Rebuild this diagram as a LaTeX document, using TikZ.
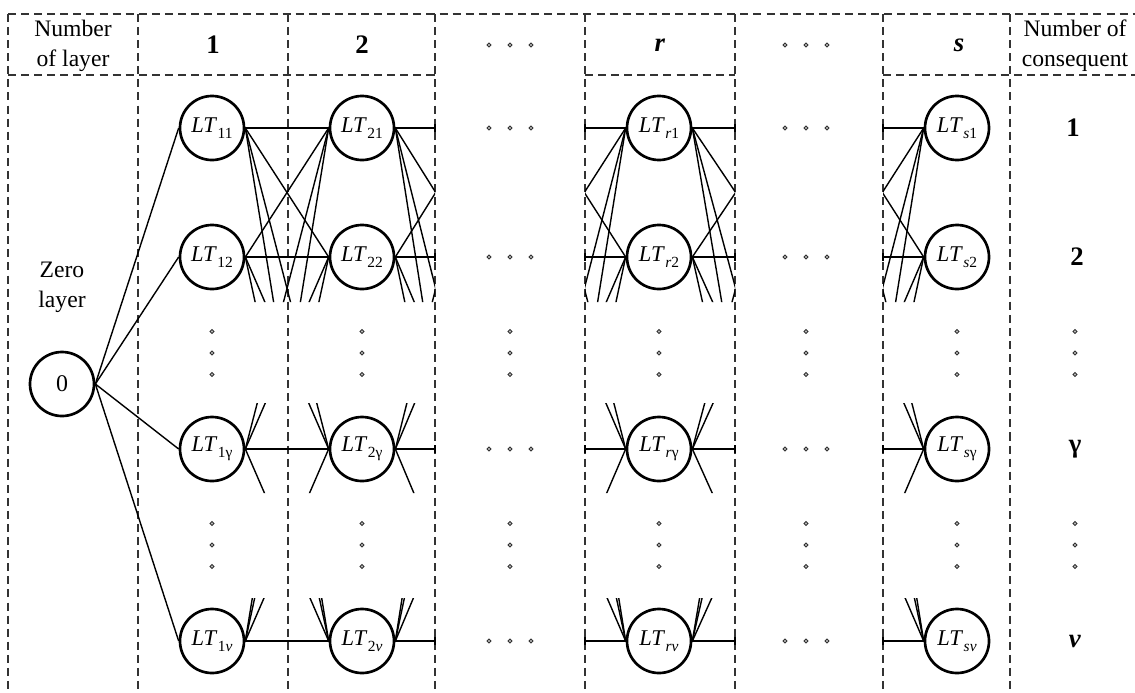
\documentclass[tikz,border=0pt]{standalone}
\usepackage{fontspec}
\setmainfont{Liberation Serif}
\newcommand{\ltlab}[1]{\textit{LT}\kern0.3pt\raisebox{-0.28em}{\fontsize{11}{12}\selectfont #1}}
\begin{document}
\begin{tikzpicture}[x=0.025cm,y=-0.025cm,
  lt/.style={circle,draw,line width=1.9pt,minimum size=1.6cm,inner sep=0pt,font=\fontsize{16}{18}\selectfont},
  dl/.style={dash pattern=on 5.7pt off 3.6pt,line width=0.9pt,black!80},
  ed/.style={line width=1pt},
  hd/.style={font=\fontsize{16.8}{21.3}\selectfont,align=center,inner sep=0pt},
  bn/.style={font=\fontsize{19}{21}\selectfont\bfseries,inner sep=0pt},
  dotst/.style={draw=black!80,fill=gray!50,line width=0.6pt}
]
\useasboundingbox (0,0) rectangle (1135,692);

% dashed frame
\draw[dl] (8,14) -- (1135,14);
\draw[dl] (8,75) -- (435,75) (585,75) -- (735,75) (883,75) -- (1135,75);
\foreach \x in {8,138,288,435,585,735,883,1010} \draw[dl] (\x,14) -- (\x,700);

% header
\node[hd] (hlayer) at (73,46) {Number\\of layer};
\node[hd] (hcons) at (1075,46) {Number of\\consequent};
\node[bn] (h1) at (213,45) {1};
\node[bn] (h2) at (362,45) {2};
\node[bn] (hr) at (660,45) {\textit{r}};
\node[bn] (hs) at (959,45) {\textit{s}};

% zero layer
\node[hd] (zlab) at (62,287) {Zero\\layer};
\node[lt,font=\fontsize{17}{19}\selectfont] (z) at (62,384) {0};

% layer nodes
\node[lt] (a1) at (212,128) {\ltlab{11}};
\node[lt] (a2) at (212,257) {\ltlab{12}};
\node[lt] (a3) at (212,449) {\ltlab{1γ}};
\node[lt] (a4) at (212,641) {\ltlab{1\textit{v}}};
\node[lt] (b1) at (362,128) {\ltlab{21}};
\node[lt] (b2) at (362,257) {\ltlab{22}};
\node[lt] (b3) at (362,449) {\ltlab{2γ}};
\node[lt] (b4) at (362,641) {\ltlab{2\textit{v}}};
\node[lt] (r1) at (659,128) {\ltlab{\textit{r}1}};
\node[lt] (r2) at (659,257) {\ltlab{\textit{r}2}};
\node[lt] (r3) at (659,449) {\ltlab{\textit{r}γ}};
\node[lt] (r4) at (659,641) {\ltlab{\textit{rv}}};
\node[lt] (s1) at (957,128) {\ltlab{\textit{s}1}};
\node[lt] (s2) at (957,257) {\ltlab{\textit{s}2}};
\node[lt] (s3) at (957,449) {\ltlab{\textit{s}γ}};
\node[lt] (s4) at (957,641) {\ltlab{\textit{sv}}};

% consequent numbers
\node[bn] (c1) at (1073,128) {1};
\node[bn] (c2) at (1077,257) {2};
\node[bn] (c3) at (1075,449) {γ};
\node[bn] (c4) at (1075,641) {\textit{v}};

% hidden neighbour points
\foreach \j/\y in {1/128,2/257,3/449,4/641}{
  \coordinate (hb\j) at (476,\y);
  \coordinate (hc\j) at (543,\y);
  \coordinate (hd\j) at (779,\y);
  \coordinate (he\j) at (841,\y);
}

% zero layer edges
\foreach \j in {1,...,4} \draw[ed] (z.east) -- (a\j.west);

\def\wins{1/60/302,2/60/302,3/403/493,4/598/700}
\foreach \i/\ta/\ba in \wins {
  \foreach \j/\tb/\bb in \wins {
    \begin{scope}
      \clip (0,\ta) rectangle (1135,\ba) (0,\tb) rectangle (1135,\bb);
      \draw[ed] (a\i.east) -- (b\j.west);
    \end{scope}
    \begin{scope}
      \clip (0,\ta) rectangle (435,\ba) (0,\tb) rectangle (435,\bb);
      \draw[ed] (b\i.east) -- (hb\j);
    \end{scope}
    \begin{scope}
      \clip (585,\ta) rectangle (1135,\ba) (585,\tb) rectangle (1135,\bb);
      \draw[ed] (hc\i) -- (r\j.west);
    \end{scope}
    \begin{scope}
      \clip (0,\ta) rectangle (735,\ba) (0,\tb) rectangle (735,\bb);
      \draw[ed] (r\i.east) -- (hd\j);
    \end{scope}
    \begin{scope}
      \clip (883,\ta) rectangle (1135,\ba) (883,\tb) rectangle (1135,\bb);
      \draw[ed] (he\i) -- (s\j.west);
    \end{scope}
  }
}

% ticks at column boundaries
\foreach \x in {435,585,735,883}
  \foreach \y in {128,257,449,641}
    \draw[ed] (\x,{\y-4}) -- (\x,{\y+4});

% horizontal ellipsis dots
\foreach \cx in {510,806}
  \foreach \y in {45,128,257,449,641}
    \foreach \d in {-21,0,21}
      \draw[dotst] ({\cx+\d},\y) circle[radius=1.4pt];

% vertical ellipsis dots
\foreach \x in {212,362,510,659,806,957,1075}
  \foreach \cy in {353,545}
    \foreach \d in {-21.5,0,21.5}
      \draw[dotst] (\x,{\cy+\d}) circle[radius=1.4pt];
\end{tikzpicture}
\end{document}
